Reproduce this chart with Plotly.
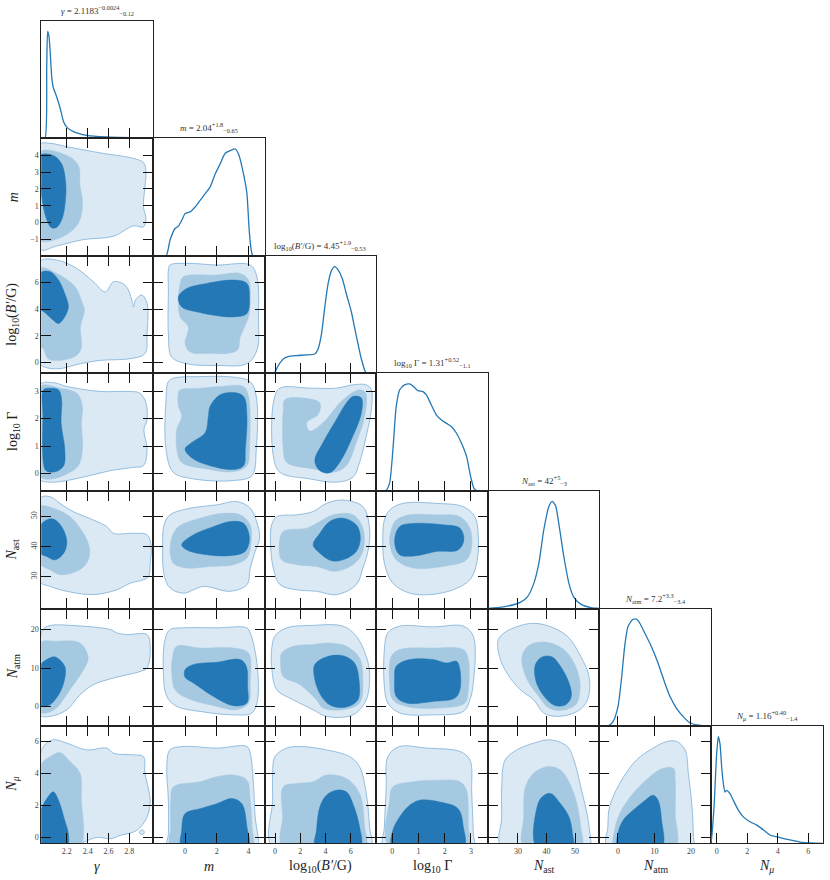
import plotly.graph_objects as go

# ---------------- data ----------------
# parameter order: gamma, m, log10(B'/G), log10 Gamma, N_ast, N_atm, N_mu
ranges = [[1.955, 3.03], [-2.0, 5.02], [-0.82, 8.0], [-0.62, 3.65],
          [19.5, 58.5], [-5.1, 25.5], [-0.37, 6.95]]
xticks = [[2.2, 2.4, 2.6, 2.8], [0, 2, 4], [0, 2, 4, 6], [0, 1, 2, 3],
          [30, 40, 50], [0, 10, 20], [0, 2, 4, 6]]
yticks = [[], [-1, 0, 1, 2, 3, 4], [0, 2, 4, 6], [0, 1, 2, 3],
          [30, 40, 50], [0, 10, 20], [0, 2, 4, 6]]
xlabels = ["<i>γ</i>", "<i>m</i>", "log<sub>10</sub>(<i>B′</i>/G)", "log<sub>10</sub> Γ",
           "<i>N</i><sub>ast</sub>", "<i>N</i><sub>atm</sub>", "<i>N</i><sub><i>μ</i></sub>"]
titles = ["<i>γ</i> = 2.1183<sup>−0.0024</sup><sub>−0.12</sub>",
          "<i>m</i> = 2.04<sup>+1.8</sup><sub>−0.65</sub>",
          "log<sub>10</sub>(<i>B′</i>/G) = 4.45<sup>+1.9</sup><sub>−0.53</sub>",
          "log<sub>10</sub> Γ = 1.31<sup>+0.52</sup><sub>−1.1</sub>",
          "<i>N</i><sub>ast</sub> = 42<sup>+5</sup><sub>−3</sub>",
          "<i>N</i><sub>atm</sub> = 7.2<sup>+3.3</sup><sub>−3.4</sub>",
          "<i>N</i><sub><i>μ</i></sub> = 1.16<sup>+0.40</sup><sub>−1.4</sub>"]

# 1D marginals (peak normalised to 1)
gamma_x = [1.955, 1.99, 2.007, 2.016, 2.029, 2.039, 2.055, 2.070, 2.103, 2.135, 2.167, 2.199, 2.263, 2.391, 2.584, 2.84, 3.0]
gamma_pdf = [0, 0, 0.67, 1.0, 0.95, 0.83, 0.575, 0.475, 0.387, 0.286, 0.16, 0.104, 0.063, 0.028, 0.013, 0.006, 0.003]
m_x = [-2.0, -1.2, -0.945, -0.629, -0.42, -0.206, 0.003, 0.318, 0.634, 0.95, 1.266, 1.58, 1.90, 2.21, 2.53, 2.85, 3.16, 3.37, 3.685, 3.9, 4.06, 4.28, 5.05]
m_pdf = [0, 0, 0.149, 0.257, 0.279, 0.334, 0.396, 0.412, 0.458, 0.520, 0.582, 0.644, 0.767, 0.86, 0.96, 0.985, 1.0, 0.954, 0.768, 0.582, 0.21, 0, 0]
b_x = [-0.82, -0.08, 0.25, 0.65, 1.04, 1.70, 2.49, 3.15, 3.41, 3.68, 3.94, 4.2, 4.47, 4.73, 5.0, 5.34, 5.65, 6.05, 6.44, 6.84, 7.18, 7.36, 8.0]
b_pdf = [0, 0, 0.072, 0.134, 0.156, 0.166, 0.172, 0.181, 0.228, 0.369, 0.619, 0.838, 0.963, 1.0, 0.969, 0.884, 0.744, 0.575, 0.35, 0.134, 0.01, 0, 0]
g_x = [-0.62, -0.257, -0.104, 0.023, 0.15, 0.28, 0.47, 0.66, 0.816, 0.98, 1.17, 1.30, 1.49, 1.685, 1.877, 2.07, 2.26, 2.45, 2.64, 2.835, 2.99, 3.115, 3.22, 3.65]
g_pdf = [0, 0, 0.069, 0.381, 0.787, 0.944, 0.991, 1.0, 0.975, 0.9375, 0.928, 0.897, 0.803, 0.709, 0.663, 0.631, 0.6, 0.538, 0.444, 0.319, 0.131, 0.022, 0, 0]
nast_x = [19.5, 24.9, 28.45, 30.8, 33.2, 35.5, 37.3, 39.04, 40.8, 42.0, 43.2, 44.3, 46.1, 47.9, 49.6, 52.0, 55.5, 58.5]
nast_pdf = [0, 0.016, 0.035, 0.057, 0.104, 0.23, 0.418, 0.733, 0.95, 1.0, 0.958, 0.795, 0.481, 0.23, 0.104, 0.041, 0.009, 0.002]
natm_x = [-5.1, -2.76, -1.38, 0.0, 0.94, 1.85, 2.76, 3.98, 5.08, 6.0, 7.37, 8.75, 10.14, 11.5, 12.9, 14.3, 16.1, 17.95, 19.8, 22.6, 25.3]
natm_pdf = [0, 0, 0.038, 0.179, 0.43, 0.743, 0.931, 0.994, 1.0, 0.962, 0.868, 0.774, 0.664, 0.539, 0.398, 0.273, 0.163, 0.085, 0.028, 0.006, 0]
nmu_x = [-0.37, -0.33, -0.17, 0.0, 0.11, 0.22, 0.33, 0.44, 0.55, 0.66, 0.876, 1.09, 1.42, 1.75, 2.19, 2.63, 2.94, 3.49, 4.15, 4.8, 5.46, 6.12, 6.95]
nmu_pdf = [0, 0.047, 0.342, 0.839, 1.0, 0.932, 0.714, 0.559, 0.481, 0.497, 0.466, 0.404, 0.311, 0.248, 0.202, 0.171, 0.14, 0.078, 0.053, 0.031, 0.012, 0.003, 0]

# 2D credible regions: [outer, middle, inner] boundaries as (x, y)
gamma_m = [
    [(1.94, 4.65), (2.04, 4.72), (2.2, 4.52), (2.52, 4.15), (2.84, 3.82), (2.94, 3.55), (2.96, 2.9), (2.95, 2.14),
     (2.935, 0.95), (2.96, 0.2), (2.935, -0.27), (2.84, -0.2), (2.65, -0.82), (2.36, -1.02), (2.1, -1.41), (1.94, -1.6)],
    [(1.94, 4.2), (2.2, 4.0), (2.31, 3.42), (2.327, 2.14), (2.35, 1.35), (2.327, 0.17), (2.26, -0.43), (2.1, -1.0), (1.94, -1.05)],
    [(1.94, 4.0), (2.07, 4.0), (2.15, 3.5), (2.19, 2.3), (2.18, 0.95), (2.15, 0.15), (2.1, -0.3), (2.05, -0.3),
     (2.0, 0.3), (1.965, 1.3), (1.94, 2.5)]]
gamma_b = [
    [(1.94, 7.57), (2.10, 7.7), (2.295, 7.07), (2.455, 6.06), (2.57, 5.3), (2.648, 6.06), (2.76, 5.8), (2.825, 4.68),
     (2.84, 4.17), (2.86, 4.7), (2.92, 5.06), (2.97, 4.43), (2.97, 2.17), (2.95, 0.66), (2.81, 0.28), (2.52, 0.15),
     (2.33, -0.1), (2.12, -0.48), (1.99, -0.36), (1.94, -0.1)],
    [(1.94, 7.07), (2.10, 6.7), (2.28, 5.68), (2.35, 4.43), (2.37, 3.92), (2.33, 2.66), (2.34, 1.15), (2.295, 0.53),
     (2.135, 0.15), (2.02, 0.28), (1.975, 1.03), (1.94, 1.2)],
    [(1.94, 6.69), (2.04, 6.82), (2.12, 6.19), (2.18, 5.18), (2.215, 4.17), (2.17, 3.3), (2.12, 2.92), (2.07, 3.17),
     (2.0, 3.68), (1.94, 4.1)]]
gamma_g = [
    [(1.94, 3.23), (2.07, 3.31), (2.2, 3.17), (2.52, 2.99), (2.775, 2.99), (2.9, 2.93), (2.96, 2.57), (2.97, 1.97),
     (2.94, 1.61), (2.97, 0.89), (2.935, 0.29), (2.84, 0.23), (2.62, 0.11), (2.42, -0.07), (2.2, -0.25), (2.04, -0.31), (1.94, -0.2)],
    [(1.94, 3.17), (2.135, 3.11), (2.295, 2.93), (2.35, 2.45), (2.34, 1.85), (2.35, 0.89), (2.31, 0.29), (2.2, -0.01),
     (2.055, -0.19), (1.94, -0.1)],
    [(1.975, 3.05), (2.04, 3.11), (2.12, 3.05), (2.15, 2.69), (2.145, 1.85), (2.18, 0.89), (2.17, 0.29), (2.09, 0.07),
     (2.0, 0.11), (1.975, 0.41), (1.97, 2.1)]]
gamma_nast = [
    [(1.94, 56.0), (2.04, 56.5), (2.135, 54.3), (2.26, 51.6), (2.455, 48.8), (2.584, 46.6), (2.647, 44.4), (2.84, 44.4),
     (2.97, 43.9), (3.01, 40.0), (3.0, 34.5), (2.985, 30.1), (2.935, 29.0), (2.81, 27.9), (2.68, 25.7), (2.455, 24.1),
     (2.2, 25.2), (2.04, 26.8), (1.94, 28.5)],
    [(1.94, 53.2), (2.07, 52.7), (2.23, 49.9), (2.36, 44.4), (2.42, 38.9), (2.39, 34.5), (2.295, 31.8), (2.135, 30.7),
     (2.04, 32.3), (1.94, 34.5)],
    [(1.94, 46.6), (2.007, 48.8), (2.07, 49.1), (2.15, 46.6), (2.2, 41.7), (2.17, 37.8), (2.087, 35.6), (2.007, 36.7), (1.94, 38.0)]]
gamma_natm = [
    [(1.97, 20.0), (2.04, 21.06), (2.26, 21.06), (2.62, 20.0), (2.68, 19.15), (2.775, 18.7), (2.97, 18.7), (3.0, 15.66),
     (2.97, 10.0), (2.905, 9.1), (2.647, 7.4), (2.455, 5.65), (2.327, 3.04), (2.2, -0.87), (2.04, -2.6), (1.94, -2.2), (1.94, 15.0)],
    [(1.94, 16.5), (2.10, 16.96), (2.327, 16.5), (2.405, 12.6), (2.36, 9.57), (2.23, 4.35), (2.10, -0.43), (2.007, -1.7), (1.94, -1.4)],
    [(1.94, 10.43), (2.007, 12.2), (2.087, 12.9), (2.18, 10.43), (2.17, 6.1), (2.10, 2.17), (2.02, 0.18), (1.94, 0.4)]]
gamma_nmu = [
    [(1.94, 4.8), (1.975, 5.67), (2.07, 6.09), (2.2, 5.88), (2.39, 5.46), (2.584, 5.57), (2.647, 5.25), (2.84, 5.15),
     (2.935, 5.04), (2.95, 4.0), (3.0, 2.32), (2.97, 1.27), (2.87, 0.43), (2.71, 0.12), (2.62, -0.09), (2.49, 0.0),
     (2.36, -0.31), (2.26, -0.6), (1.94, -0.6)],
    [(1.94, 4.41), (2.04, 5.04), (2.135, 5.29), (2.215, 4.83), (2.327, 4.0), (2.34, 2.32), (2.36, 0.22), (2.33, -0.6), (1.94, -0.6)],
    [(1.94, 1.48), (2.02, 2.53), (2.07, 2.84), (2.12, 2.32), (2.18, 1.06), (2.215, 0.22), (2.2, -0.6), (1.94, -0.6)]]
gamma_nmu_blob = [(2.896, 0.32), (2.92, 0.47), (2.944, 0.32), (2.92, 0.17)]
m_b = [
    [(-0.945, 7.32), (0.11, 7.45), (2.0, 7.32), (4.11, 7.32), (4.53, 6.44), (4.63, 3.42), (4.53, 0.9), (3.9, -0.1),
     (2.0, -0.23), (0.11, -0.1), (-0.84, 0.4), (-1.05, 2.17), (-1.05, 5.43), (-1.05, 6.94)],
    [(-0.105, 6.44), (2.0, 6.57), (3.48, 6.69), (4.0, 6.19), (4.11, 4.68), (4.0, 3.42), (3.48, 1.91), (3.27, 0.9),
     (1.37, 0.66), (0.32, 0.78), (0.0, 1.41), (0.21, 2.67), (-0.31, 3.42), (-0.42, 4.68), (-0.31, 5.94)],
    [(-0.42, 4.93), (0.11, 5.56), (1.37, 5.94), (3.05, 6.19), (3.9, 5.94), (4.06, 4.93), (3.9, 3.67), (3.05, 3.42),
     (1.79, 3.55), (0.74, 3.8), (-0.21, 4.17)]]
m_g = [
    [(-0.74, 3.47), (0.95, 3.53), (3.05, 3.51), (4.11, 3.35), (4.49, 2.81), (4.49, 0.89), (4.22, -0.07), (3.05, -0.25),
     (0.53, -0.19), (-0.74, 0.05), (-1.2, 0.89), (-1.2, 2.69), (-1.05, 3.35)],
    [(-0.31, 3.05), (0.95, 3.11), (2.21, 3.17), (3.69, 3.17), (4.0, 2.81), (4.06, 0.89), (3.9, 0.29), (3.05, 0.07),
     (1.37, 0.17), (-0.21, 0.41), (-0.52, 0.89), (-0.52, 1.61), (-0.21, 2.09), (-0.42, 2.45), (-0.42, 2.93)],
    [(1.58, 2.45), (2.21, 2.87), (3.05, 2.95), (3.69, 2.81), (3.9, 2.09), (3.8, 0.89), (3.69, 0.29), (3.05, 0.15),
     (1.58, 0.29), (0.53, 0.53), (0.0, 0.89), (0.42, 1.13), (1.27, 1.49), (1.47, 2.09)]]
m_nast = [
    [(-0.945, 50.5), (0.32, 52.7), (2.0, 53.8), (3.27, 54.9), (4.11, 52.7), (4.57, 47.2), (4.7, 42.8), (4.42, 38.4),
     (4.11, 32.9), (3.9, 27.4), (2.85, 25.2), (1.16, 26.8), (-0.105, 24.6), (-0.945, 26.3), (-1.32, 30.7), (-1.41, 40.6), (-1.32, 47.2)],
    [(-0.52, 46.1), (0.95, 49.4), (2.42, 51.0), (3.48, 50.5), (4.11, 47.2), (4.17, 41.7), (3.9, 36.2), (3.05, 34.0),
     (1.58, 33.4), (0.11, 32.9), (-0.74, 34.5), (-0.945, 39.5)],
    [(-0.21, 40.6), (0.53, 43.9), (1.79, 46.6), (2.85, 48.3), (3.69, 47.7), (4.06, 42.8), (3.79, 38.4), (2.85, 37.0),
     (1.37, 37.3), (0.11, 38.9)]]
m_natm = [
    [(-0.945, 20.0), (-0.105, 20.46), (2.0, 20.46), (3.9, 20.46), (4.11, 19.15), (4.53, 11.3), (4.57, 1.74), (4.22, -1.7),
     (3.05, -2.2), (0.95, -1.3), (-0.52, 0.0), (-1.15, 2.6), (-1.37, 9.57), (-1.26, 17.4)],
    [(-0.52, 15.66), (0.95, 15.2), (3.05, 15.2), (4.0, 13.9), (4.11, 6.1), (4.0, 0.88), (3.27, -0.87), (2.0, 0.0),
     (0.11, 2.17), (-0.63, 4.35), (-0.84, 8.7), (-0.78, 13.0)],
    [(0.0, 9.57), (0.53, 10.9), (2.0, 11.5), (3.48, 12.2), (3.86, 10.43), (3.94, 5.2), (3.9, 0.88), (3.05, 0.18),
     (1.79, 2.6), (0.53, 6.1), (0.0, 7.6)]]
m_nmu = [
    [(-0.945, 5.46), (-0.105, 5.67), (2.0, 5.57), (3.9, 5.67), (4.11, 5.25), (4.32, 3.15), (4.42, 1.27), (4.63, -0.2),
     (4.63, -0.6), (-1.1, -0.6), (-1.05, 0.22), (-1.05, 2.32), (-1.15, 4.41)],
    [(-0.74, 3.15), (0.95, 3.47), (2.0, 3.78), (3.05, 3.89), (3.9, 3.57), (4.11, 2.32), (4.22, 0.64), (4.22, -0.6),
     (-0.9, -0.6), (-0.9, 0.64), (-0.9, 2.32)],
    [(-0.21, 0.43), (0.0, 1.48), (0.95, 1.79), (2.0, 2.1), (2.95, 2.42), (3.58, 2.1), (3.9, 0.64), (3.95, -0.6), (-0.2, -0.6)]]
b_g = [
    [(0.39, 3.11), (2.76, 3.11), (4.86, 3.11), (6.17, 3.23), (7.23, 3.23), (7.63, 3.05), (7.63, 2.33), (7.23, 1.37),
     (6.70, 0.41), (6.17, -0.13), (4.86, -0.31), (2.76, -0.19), (0.39, 0.05), (-0.14, 0.65), (-0.09, 2.69)],
    [(0.78, 2.69), (2.23, 2.75), (3.55, 2.57), (3.41, 2.15), (2.5, 1.85), (2.76, 1.55), (3.8, 1.85), (5.38, 2.69),
     (6.7, 3.05), (7.18, 2.93), (7.1, 2.09), (6.44, 1.13), (5.65, 0.29), (4.6, 0.05), (3.02, 0.17), (0.92, 0.41),
     (0.65, 0.89), (0.65, 2.33)],
    [(6.17, 2.81), (6.84, 2.75), (6.84, 2.21), (6.17, 1.37), (5.12, 0.41), (4.33, 0.03), (3.55, 0.11), (3.15, 0.47),
     (3.8, 1.13), (4.86, 1.97), (5.65, 2.57)]]
b_nast = [
    [(0.13, 49.9), (1.71, 50.5), (3.02, 51.6), (4.07, 54.3), (5.38, 55.4), (6.96, 53.2), (7.49, 46.1), (7.36, 38.4),
     (6.96, 32.9), (6.44, 27.4), (4.86, 24.1), (3.28, 25.2), (1.71, 25.7), (0.39, 27.4), (-0.14, 32.9), (-0.35, 40.6), (-0.27, 47.2)],
    [(0.65, 45.0), (2.5, 46.1), (3.55, 48.3), (4.6, 50.5), (6.17, 50.5), (6.96, 46.1), (6.96, 38.4), (6.17, 34.0),
     (4.73, 31.8), (3.28, 33.4), (1.71, 34.0), (0.52, 35.6), (0.33, 40.6)],
    [(3.02, 40.6), (3.55, 44.4), (4.33, 48.3), (5.38, 49.4), (6.44, 47.2), (6.76, 42.8), (6.44, 38.4), (5.38, 35.6),
     (4.47, 35.3), (3.55, 37.8)]]
b_natm = [
    [(-0.01, 18.3), (0.92, 20.46), (2.76, 21.06), (5.38, 20.9), (6.44, 18.3), (7.23, 13.0), (7.49, 8.7), (7.23, 1.74),
     (6.17, -2.2), (4.07, -2.6), (3.02, -0.87), (1.44, 1.74), (0.13, 4.35), (-0.27, 10.43), (-0.27, 14.8)],
    [(0.52, 13.9), (1.44, 15.66), (3.02, 16.1), (4.07, 16.5), (5.65, 15.66), (6.7, 12.6), (6.96, 7.0), (6.7, 0.88),
     (5.38, -0.87), (3.8, -0.43), (3.28, 1.74), (1.97, 5.65), (0.65, 7.8), (0.44, 11.3)],
    [(3.15, 10.9), (4.07, 12.9), (5.38, 13.2), (6.3, 11.3), (6.65, 7.0), (6.57, 1.74), (5.65, -0.17), (4.47, 0.18),
     (3.68, 2.6), (3.15, 7.0)]]
b_nmu = [
    [(-0.01, 5.04), (0.92, 5.57), (1.97, 5.67), (4.07, 5.46), (5.91, 5.04), (6.7, 4.41), (7.23, 2.74), (7.49, 0.64),
     (7.55, -0.6), (-0.2, -0.6), (-0.19, 2.32), (-0.19, 3.99)],
    [(0.65, 3.15), (1.71, 3.36), (3.02, 3.47), (4.07, 3.89), (5.65, 3.68), (6.7, 2.74), (7.1, 0.64), (7.15, -0.6),
     (0.6, -0.6), (0.6, 1.27)],
    [(3.28, 0.43), (3.55, 1.9), (4.07, 2.63), (4.86, 2.94), (5.65, 2.84), (6.17, 2.1), (6.7, 0.64), (6.75, -0.6), (3.2, -0.6)]]
g_nast = [
    [(-0.1, 52.1), (0.41, 54.3), (1.685, 54.3), (2.71, 53.2), (3.15, 49.9), (3.28, 43.3), (3.22, 34.5), (2.96, 29.0),
     (2.32, 25.7), (1.43, 24.1), (0.66, 24.6), (0.02, 27.9), (-0.3, 34.5), (-0.36, 43.3), (-0.3, 48.8)],
    [(0.15, 48.8), (0.66, 50.5), (1.685, 50.5), (2.58, 49.9), (2.96, 46.1), (3.03, 40.0), (2.83, 35.6), (1.94, 33.4),
     (0.79, 32.9), (0.15, 35.6), (-0.1, 41.1), (-0.04, 45.5)],
    [(0.28, 46.6), (0.92, 47.7), (1.94, 47.2), (2.58, 46.1), (2.73, 42.2), (2.51, 38.9), (1.685, 38.4), (0.92, 37.0),
     (0.28, 37.3), (0.09, 41.7)]]
g_natm = [
    [(-0.17, 19.15), (0.28, 20.9), (1.55, 20.7), (2.71, 20.9), (3.09, 18.3), (3.09, 6.1), (2.96, 1.74), (2.71, -1.3),
     (1.55, -2.2), (0.28, -1.7), (-0.17, 0.88), (-0.3, 5.2), (-0.3, 14.8)],
    [(-0.04, 13.0), (0.28, 14.8), (1.55, 15.2), (2.71, 14.8), (2.9, 12.2), (2.9, 4.35), (2.77, 0.88), (1.81, -0.43),
     (0.54, 0.0), (0.02, 1.74), (-0.1, 6.1)],
    [(0.15, 10.43), (0.66, 12.2), (1.55, 12.2), (2.07, 11.3), (2.45, 11.75), (2.58, 9.57), (2.58, 4.35), (2.39, 2.17),
     (1.55, 1.3), (0.54, 0.88), (0.15, 2.6), (0.09, 7.0)]]
g_nmu = [
    [(-0.17, 5.04), (0.28, 5.67), (1.30, 5.57), (2.58, 5.36), (2.96, 4.83), (3.03, 2.74), (3.09, 0.22), (3.1, -0.6),
     (-0.32, -0.6), (-0.3, 0.64), (-0.23, 3.15)],
    [(-0.1, 2.32), (0.02, 3.15), (0.79, 3.47), (1.81, 3.57), (2.58, 3.47), (2.83, 2.94), (2.9, 0.64), (2.92, -0.6), (-0.12, -0.6)],
    [(0.02, 0.43), (0.28, 1.27), (0.66, 2.0), (1.05, 2.32), (1.81, 2.21), (2.51, 1.79), (2.71, 0.64), (2.72, -0.6), (0.0, -0.6)]]
nast_natm = [
    [(23.1, 17.4), (26.1, 19.6), (34.3, 21.6), (40.2, 21.06), (47.3, 18.3), (52.0, 13.0), (54.9, 7.8), (54.4, 1.74),
     (50.8, -1.3), (43.8, -2.6), (39.0, -1.7), (35.5, 1.74), (30.8, 4.35), (26.1, 8.7), (23.5, 13.0)],
    [(31.4, 13.0), (34.3, 16.1), (40.2, 16.7), (46.1, 14.8), (50.2, 10.43), (51.8, 5.2), (50.2, 0.43), (44.9, -1.05),
     (40.8, -0.43), (37.3, 2.6), (33.2, 7.0)],
    [(36.1, 10.9), (38.5, 12.9), (42.0, 12.9), (44.9, 10.43), (47.9, 6.1), (48.7, 2.6), (46.7, 0.43), (43.2, 0.18),
     (40.2, 1.74), (36.5, 6.1)]]
nast_nmu = [
    [(25.5, 4.83), (29.6, 5.46), (35.5, 5.88), (41.4, 6.09), (47.3, 5.67), (49.6, 4.83), (52.0, 3.15), (54.4, 1.27),
     (55.5, -0.2), (55.6, -0.6), (24.2, -0.6), (24.3, 1.27), (24.3, 3.15)],
    [(32.6, 3.15), (35.5, 4.0), (40.2, 4.41), (44.9, 4.2), (49.6, 2.74), (52.0, 0.64), (52.1, -0.6), (32.0, -0.6), (32.0, 1.27)],
    [(36.7, 1.9), (38.5, 2.53), (41.4, 2.74), (44.9, 2.1), (47.9, 1.27), (49.1, 0.22), (49.2, -0.6), (36.5, -0.6)]]
natm_nmu = [
    [(-2.76, 0.64), (-2.3, 1.9), (0.47, 3.36), (5.08, 4.83), (9.67, 5.57), (13.4, 5.98), (16.1, 5.98), (18.4, 5.46),
     (19.3, 3.99), (20.3, 1.9), (20.7, 0.0), (20.8, -0.6), (-2.9, -0.6)],
    [(-0.91, 0.43), (0.47, 1.48), (4.14, 2.74), (8.75, 3.78), (12.4, 4.31), (15.2, 4.31), (15.7, 3.57), (15.7, 1.48),
     (15.7, -0.6), (-1.0, -0.6)],
    [(0.0, 0.22), (1.38, 1.06), (4.14, 1.69), (6.9, 2.21), (9.67, 2.63), (11.0, 2.32), (11.97, 1.06), (12.0, -0.6), (0.0, -0.6)]]

marginals = [(gamma_x, gamma_pdf), (m_x, m_pdf), (b_x, b_pdf), (g_x, g_pdf),
             (nast_x, nast_pdf), (natm_x, natm_pdf), (nmu_x, nmu_pdf)]
panels = {(1, 0): gamma_m, (2, 0): gamma_b, (3, 0): gamma_g, (4, 0): gamma_nast, (5, 0): gamma_natm, (6, 0): gamma_nmu,
          (2, 1): m_b, (3, 1): m_g, (4, 1): m_nast, (5, 1): m_natm, (6, 1): m_nmu,
          (3, 2): b_g, (4, 2): b_nast, (5, 2): b_natm, (6, 2): b_nmu,
          (4, 3): g_nast, (5, 3): g_natm, (6, 3): g_nmu,
          (5, 4): nast_natm, (6, 4): nast_nmu,
          (6, 5): natm_nmu}

# ---------------- figure ----------------
W, H = 830, 880
SERIF = "Liberation Serif"
BLUE = "rgb(35,120,181)"
fills = ["rgb(219,233,244)", "rgb(166,201,226)", "rgb(35,120,181)"]
col_edges = [41.3, 153.3, 264.7, 376.0, 488.0, 599.3, 711.0, 822.7]
row_edges = [20.7, 138.3, 256.0, 373.3, 490.7, 608.5, 726.0, 843.3]


def px_x(p):
    return p / W


def px_y(p):
    return 1 - p / H


fig = go.Figure()
layout = {}
axis_id = {}
k = 0
for i in range(7):
    for j in range(i + 1):
        k += 1
        axis_id[(i, j)] = k

base = dict(showline=True, linecolor="#222", linewidth=1.1, showgrid=False, zeroline=False,
            ticks="inside", ticklen=10, tickwidth=1.3, tickcolor="#111", layer="above traces",
            tickfont=dict(family=SERIF, size=8, color="#444"))

for (i, j), k in axis_id.items():
    xs = "" if k == 1 else str(k)
    xdom = [px_x(col_edges[j]), px_x(col_edges[j + 1])]
    ydom = [px_y(row_edges[i + 1]), px_y(row_edges[i])]
    xa = dict(base, domain=xdom, anchor="y" + xs, range=ranges[j], tickvals=xticks[j],
              showticklabels=(i == 6))
    if i == j:
        xa["mirror"] = True
        ya = dict(showline=True, linecolor="#222", linewidth=1.1, mirror=True, showgrid=False,
                  zeroline=False, ticks="", showticklabels=False, domain=ydom, anchor="x" + xs,
                  range=[0, 1.1])
    else:
        xa["mirror"] = "ticks"
        ya = dict(base, domain=ydom, anchor="x" + xs, range=ranges[i], tickvals=yticks[i],
                  showticklabels=(j == 0), mirror="ticks")
        if i == 4:
            ya["tickangle"] = -90
    layout["xaxis" + xs] = xa
    layout["yaxis" + xs] = ya

    if i == j:
        mx, mp = marginals[i]
        fig.add_trace(go.Scatter(x=mx, y=mp, mode="lines", xaxis="x" + xs, yaxis="y" + xs,
                                 line=dict(color=BLUE, width=1.3, shape="spline", smoothing=0.6),
                                 hoverinfo="skip", showlegend=False))
    else:
        polys = list(panels[(i, j)])
        for level, poly in enumerate(polys):
            px = [p[0] for p in poly] + [poly[0][0]]
            py = [p[1] for p in poly] + [poly[0][1]]
            if level == 0:
                line = dict(color="rgb(125,176,216)", width=0.8, shape="spline", smoothing=1.0)
            else:
                line = dict(color=fills[level], width=0.5, shape="spline", smoothing=1.0)
            fig.add_trace(go.Scatter(x=px, y=py, mode="lines", fill="toself", fillcolor=fills[level],
                                     line=line, xaxis="x" + xs, yaxis="y" + xs,
                                     hoverinfo="skip", showlegend=False))
        if (i, j) == (6, 0):
            bx = [p[0] for p in gamma_nmu_blob] + [gamma_nmu_blob[0][0]]
            by = [p[1] for p in gamma_nmu_blob] + [gamma_nmu_blob[0][1]]
            fig.add_trace(go.Scatter(x=bx, y=by, mode="lines", fill="toself", fillcolor=fills[0],
                                     line=dict(color="rgb(125,176,216)", width=0.8, shape="spline", smoothing=1.3),
                                     xaxis="x" + xs, yaxis="y" + xs, hoverinfo="skip", showlegend=False))

annotations = []
for n in range(7):
    cx = (col_edges[n] + col_edges[n + 1]) / 2
    # diagonal titles
    annotations.append(dict(x=px_x(cx), y=px_y(row_edges[n] - 2), xref="paper", yref="paper",
                            text=titles[n], showarrow=False, xanchor="center", yanchor="bottom",
                            font=dict(family=SERIF, size=9, color="#333")))
    # bottom axis labels
    annotations.append(dict(x=px_x(cx), y=px_y(866), xref="paper", yref="paper", text=xlabels[n],
                            showarrow=False, xanchor="center", yanchor="middle",
                            font=dict(family=SERIF, size=14, color="#222")))
    if n > 0:
        cy = (row_edges[n] + row_edges[n + 1]) / 2
        annotations.append(dict(x=px_x(13), y=px_y(cy), xref="paper", yref="paper", text=xlabels[n],
                                showarrow=False, xanchor="center", yanchor="middle", textangle=-90,
                                font=dict(family=SERIF, size=14, color="#222")))

fig.update_layout(**layout)
fig.update_layout(width=W, height=H, margin=dict(l=0, r=0, t=0, b=0),
                  paper_bgcolor="white", plot_bgcolor="white",
                  annotations=annotations, showlegend=False)

fig.write_html("out.html", config={"displayModeBar": False},
               post_script="document.body.style.margin='0';")
